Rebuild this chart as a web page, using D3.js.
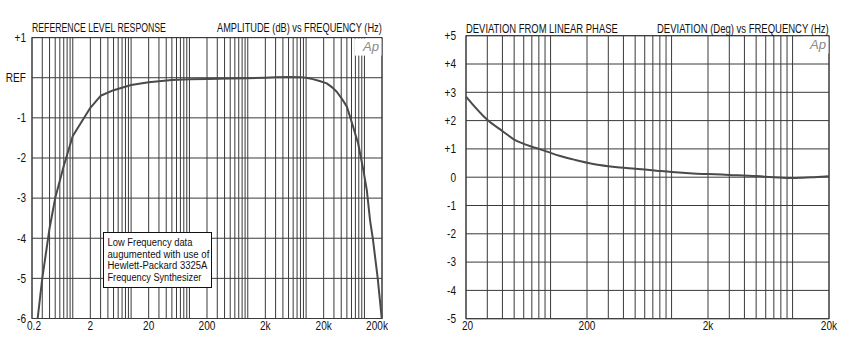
<!DOCTYPE html>
<html>
<head>
<meta charset="utf-8">
<script src="https://cdn.jsdelivr.net/npm/d3@7"></script>
<style>
  html, body { margin: 0; padding: 0; background: #fff; }
  svg { display: block; }
  text { font-family: "Liberation Sans", Arial, sans-serif; fill: #111; }
</style>
</head>
<body>
<svg id="chart" width="853" height="346"></svg>
<script>
// ---------- Data: left chart (amplitude response) ----------
const ampFreq = [0.25, 0.3, 0.4, 0.5, 0.7, 1, 2, 3, 5, 10, 20, 50, 100, 200, 500, 1000, 2000, 3000, 5000, 8000, 10000, 13000, 17000, 22600, 28000, 33500, 40000, 50000, 64000, 78000, 96000, 110000, 125000, 139000, 169000, 198000];
const ampDb   = [-6.0, -5.0, -3.75, -3.0, -2.2, -1.45, -0.75, -0.45, -0.31, -0.18, -0.11, -0.055, -0.04, -0.03, -0.02, -0.01, 0.0, 0.01, 0.02, 0.015, 0.0, -0.035, -0.08, -0.14, -0.24, -0.35, -0.5, -0.72, -1.22, -1.64, -2.31, -2.81, -3.56, -4.0, -5.0, -6.0];
const ampXTicks  = [0.2, 2, 20, 200, 2000, 20000, 200000];
const ampXLabels = ["0.2", "2", "20", "200", "2k", "20k", "200k"];
const ampYTicks  = [1, 0, -1, -2, -3, -4, -5, -6];
const ampYLabels = ["+1", "REF", "-1", "-2", "-3", "-4", "-5", "-6"];
const ampTitleLeft  = "REFERENCE LEVEL RESPONSE";
const ampTitleRight = "AMPLITUDE (dB) vs FREQUENCY (Hz)";
const noteLines = ["Low Frequency data", "augumented with use of", "Hewlett-Packard 3325A", "Frequency Synthesizer"];

// ---------- Data: right chart (phase deviation) ----------
const phFreq = [20, 30, 40, 50, 60, 70, 80, 90, 100, 120, 160, 225, 300, 375, 500, 600, 750, 1000, 1500, 2000, 3000, 5000, 7000, 10000, 12000, 15000, 20000];
const phDeg  = [2.85, 2.03, 1.63, 1.33, 1.18, 1.08, 1.0, 0.93, 0.86, 0.75, 0.61, 0.47, 0.39, 0.34, 0.30, 0.27, 0.23, 0.18, 0.13, 0.11, 0.08, 0.04, 0.0, -0.03, -0.02, 0.0, 0.03];
const phXTicks  = [20, 200, 2000, 20000];
const phXLabels = ["20", "200", "2k", "20k"];
const phYTicks  = [5, 4, 3, 2, 1, 0, -1, -2, -3, -4, -5];
const phYLabels = ["+5", "+4", "+3", "+2", "+1", "0", "-1", "-2", "-3", "-4", "-5"];
const phTitleLeft  = "DEVIATION FROM LINEAR PHASE";
const phTitleRight = "DEVIATION (Deg) vs FREQUENCY (Hz)";

const svg = d3.select("#chart");
const GRID = "#3a3a3a";
const CURVE = "#4a4a4a";
const SX = 0.84;   // horizontal condensing of label text
const FS = 12;

// place a text so that it starts at (x0, y0) and spans exactly `w` pixels
function fitText(parent, str, x0, y0, w, size) {
  const t = parent.append("text").attr("font-size", size).text(str);
  const natural = t.node().getComputedTextLength();
  t.attr("transform", `translate(${x0},${y0}) scale(${w / natural},1)`);
  return t;
}

function drawPanel(cfg) {
  const g = svg.append("g");
  const x = d3.scaleLog().domain(cfg.xDomain).range([cfg.left, cfg.right]);
  const y = d3.scaleLinear().domain(cfg.yDomain).range([cfg.bottom, cfg.top]);

  // vertical grid (1..9 per decade)
  g.append("g").selectAll("line").data(x.ticks()).join("line")
    .attr("x1", d => x(d)).attr("x2", d => x(d))
    .attr("y1", cfg.top).attr("y2", cfg.bottom)
    .attr("stroke", GRID).attr("stroke-width", 1);
  // horizontal grid
  g.append("g").selectAll("line").data(cfg.yTicks).join("line")
    .attr("x1", cfg.left).attr("x2", cfg.right)
    .attr("y1", d => y(d)).attr("y2", d => y(d))
    .attr("stroke", GRID).attr("stroke-width", 1);
  // frame
  g.append("rect").attr("x", cfg.left).attr("y", cfg.top)
    .attr("width", cfg.right - cfg.left).attr("height", cfg.bottom - cfg.top)
    .attr("fill", "none").attr("stroke", GRID).attr("stroke-width", 1);

  // Ap logo with white patch
  g.append("rect").attr("x", cfg.logoX - 8).attr("y", cfg.top + 1)
    .attr("width", cfg.right - cfg.logoX + 7.5).attr("height", 17).attr("fill", "#fff");
  g.append("text").attr("transform", `translate(${cfg.logoX},${cfg.top + 13}) scale(1.05,1)`)
    .attr("font-size", 12.5).attr("font-style", "italic").style("fill", "#8a8a8a").text("Ap");

  // curve
  const pts = cfg.xs.map((f, i) => [f, cfg.ys[i]]);
  g.append("path").datum(pts)
    .attr("d", d3.line().x(d => x(d[0])).y(d => y(d[1])).curve(cfg.curve))
    .attr("fill", "none").attr("stroke", CURVE).attr("stroke-width", 2)
    .attr("stroke-linejoin", "round");

  // x tick labels
  g.append("g").selectAll("text").data(cfg.xTicks).join("text")
    .attr("transform", (d, i) => `translate(${x(d) + (cfg.xShift[i] || 0)},${cfg.bottom + 11.5}) scale(${SX},1)`)
    .attr("text-anchor", "middle").attr("font-size", FS)
    .text((d, i) => cfg.xLabels[i]);
  // y tick labels
  g.append("g").selectAll("text").data(cfg.yTicks).join("text")
    .attr("transform", d => `translate(${cfg.left - cfg.yLabelGap},${y(d)}) scale(${SX},1)`)
    .attr("dy", "0.36em")
    .attr("text-anchor", "end").attr("font-size", FS)
    .text((d, i) => cfg.yLabels[i]);

  // titles
  fitText(g, cfg.titleL, cfg.left, cfg.titleY, cfg.tlW, FS);
  fitText(g, cfg.titleR, cfg.right - cfg.trW, cfg.titleY, cfg.trW, FS);
  return { g, x, y };
}

const left = drawPanel({
  xDomain: [0.2, 200000], yDomain: [-6, 1],
  left: 32, right: 382, top: 37.6, bottom: 318.5,
  xs: ampFreq, ys: ampDb, curve: d3.curveLinear,
  xTicks: ampXTicks, xLabels: ampXLabels, xShift: [2, 0, 0, 0, 0, 0, -5],
  yTicks: ampYTicks, yLabels: ampYLabels, yLabelGap: 6,
  titleL: ampTitleLeft, titleR: ampTitleRight, titleY: 31.5, tlW: 134, trW: 165,
  logoX: 363
});

const right = drawPanel({
  xDomain: [20, 20000], yDomain: [-5, 5],
  left: 466, right: 829, top: 35.7, bottom: 318.7,
  xs: phFreq, ys: phDeg, curve: d3.curveMonotoneX,
  xTicks: phXTicks, xLabels: phXLabels, xShift: [1.5, 0, 0, 0],
  yTicks: phYTicks, yLabels: phYLabels, yLabelGap: 10,
  titleL: phTitleLeft, titleR: phTitleRight, titleY: 32.5, tlW: 152, trW: 172,
  logoX: 810
});

// annotation box in the left chart
const noteWidths = [85, 102, 100, 94];
const note = left.g.append("g");
note.append("rect").attr("x", 103.5).attr("y", 232.5).attr("width", 108).attr("height", 55)
  .attr("fill", "#fff").attr("stroke", "#111").attr("stroke-width", 1);
noteLines.forEach((line, i) => fitText(note, line, 107.5, 246 + i * 11.5, noteWidths[i], 11.5));
</script>
</body>
</html>
